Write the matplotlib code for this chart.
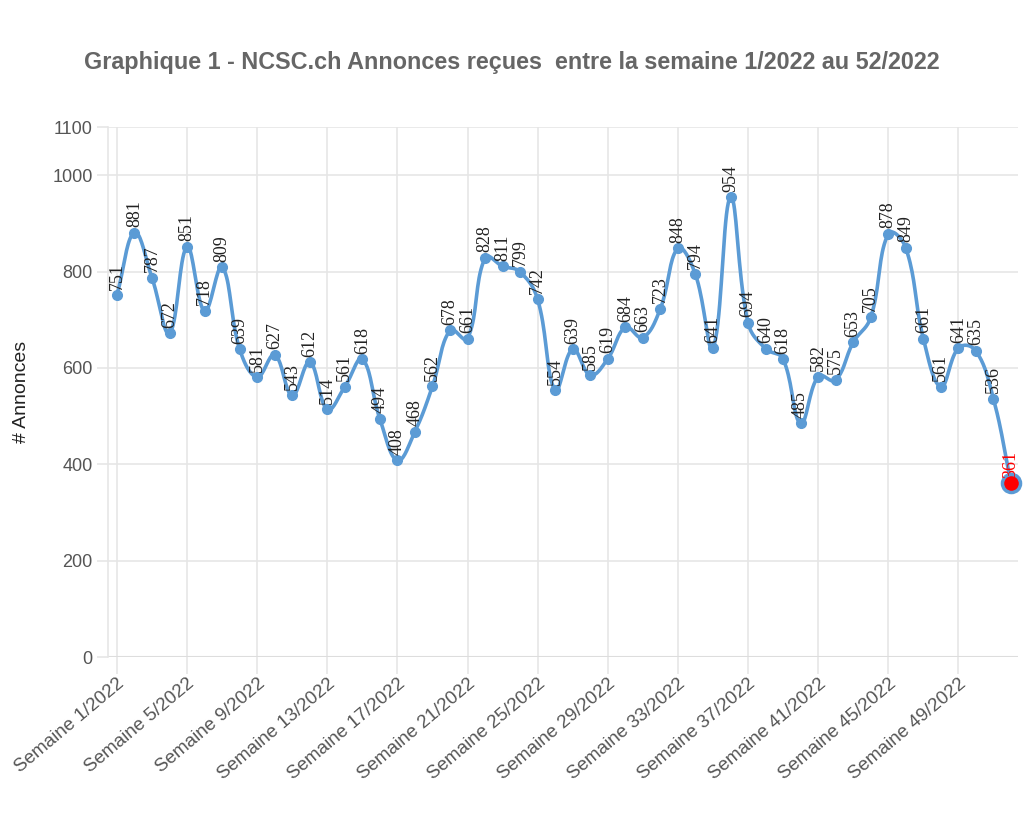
import numpy as np
import matplotlib
matplotlib.use("Agg")
import matplotlib.pyplot as plt

weeks = [f"Semaine {i}/2022" for i in range(1, 53)]
values = [751, 881, 787, 672, 851, 718, 809, 639, 581, 627, 543, 612, 514, 561, 618,
          494, 408, 468, 562, 678, 661, 828, 811, 799, 742, 554, 639, 585, 619, 684,
          663, 723, 848, 794, 641, 954, 694, 640, 618, 485, 582, 575, 653, 705, 878,
          849, 661, 561, 641, 635, 536, 361]
yticks = [0, 200, 400, 600, 800, 1000, 1100]
title = "Graphique 1 - NCSC.ch Annonces reçues  entre la semaine 1/2022 au 52/2022"
ylabel = "# Annonces"

BLUE = "#5b9bd5"
GRID = "#e6e6e6"
TXT = "#555555"

def spline(xs, ys, tension=0.4, n=20):
    xs = np.asarray(xs, float); ys = np.asarray(ys, float)
    outx, outy = [], []
    m = len(xs)
    cp = []
    for i in range(m):
        p = (xs[max(i - 1, 0)], ys[max(i - 1, 0)])
        c = (xs[i], ys[i])
        nx = (xs[min(i + 1, m - 1)], ys[min(i + 1, m - 1)])
        d01 = np.hypot(c[0] - p[0], (c[1] - p[1]) / 50)
        d12 = np.hypot(nx[0] - c[0], (nx[1] - c[1]) / 50)
        s01 = d01 / (d01 + d12) if d01 + d12 else 0
        s12 = d12 / (d01 + d12) if d01 + d12 else 0
        fa = tension * s01
        fb = tension * s12
        prev = (c[0] - fa * (nx[0] - p[0]), c[1] - fa * (nx[1] - p[1]))
        nxt = (c[0] + fb * (nx[0] - p[0]), c[1] + fb * (nx[1] - p[1]))
        cp.append((prev, nxt))
    t = np.linspace(0, 1, n)
    for i in range(m - 1):
        p0 = np.array([xs[i], ys[i]])
        p1 = np.array(cp[i][1])
        p2 = np.array(cp[i + 1][0])
        p3 = np.array([xs[i + 1], ys[i + 1]])
        seg = ((1 - t) ** 3)[:, None] * p0 + (3 * (1 - t) ** 2 * t)[:, None] * p1 \
            + (3 * (1 - t) * t ** 2)[:, None] * p2 + (t ** 3)[:, None] * p3
        outx.extend(seg[:, 0]); outy.extend(seg[:, 1])
    return np.array(outx), np.array(outy)

fig = plt.figure(figsize=(10.24, 8.3), dpi=100)
ax = fig.add_axes([108 / 1024, 1 - 657 / 830, (1018 - 108) / 1024, (657 - 127) / 830])

x = np.arange(len(values))
sx, sy = spline(x, values)
ax.plot(sx, sy, color=BLUE, lw=2.6, zorder=3, solid_capstyle="round")
ax.plot(x[:-1], values[:-1], "o", color=BLUE, ms=7, zorder=4)
ax.plot(x[-1], values[-1], "o", color="red", mec=BLUE, mew=2.5, ms=13, zorder=5,
        clip_on=False)

for i, v in enumerate(values):
    ax.annotate(str(v), (i, v), xytext=(0, 4), textcoords="offset points",
                rotation=90, ha="center", va="bottom",
                fontsize=13, family="Liberation Serif",
                color="red" if i == len(values) - 1 else "#222222", zorder=6)

ax.set_xlim(-0.51, 51.4)
ax.set_ylim(0, 1100)
ax.set_yticks(yticks)
ax.set_yticklabels([str(t) for t in yticks])
xt = list(range(0, 52, 4))
ax.set_xticks(xt)
ax.set_xticklabels([weeks[i] for i in xt], rotation=40, ha="right",
                   rotation_mode="anchor")
ax.grid(True, color=GRID, lw=1.2)
ax.set_axisbelow(True)
for s in ["top", "right", "bottom"]:
    ax.spines[s].set_visible(False)
ax.spines["left"].set_color(GRID)
ax.spines["left"].set_linewidth(1.2)
ax.axhline(0, color="#dddddd", lw=1.5, zorder=1)
ax.tick_params(axis="y", colors=GRID, length=8, width=1.2,
               labelcolor=TXT, pad=3)
ax.tick_params(axis="x", colors=GRID, length=12, width=1.2,
               labelcolor=TXT, pad=1)
for lab in ax.get_xticklabels():
    lab.set_family("Liberation Sans")
    lab.set_fontsize(13.5)
for lab in ax.get_yticklabels():
    lab.set_family("Liberation Sans")
    lab.set_fontsize(13)

ax.set_ylabel(ylabel, fontsize=14, family="Liberation Sans", color="#222222",
              labelpad=16)
fig.text(512 / 1024, 1 - 62 / 830, title, ha="center", va="center",
         fontsize=16.8, fontweight="bold", color="#666666", family="Liberation Sans")

fig.savefig("out.png", dpi=100, facecolor="white")
